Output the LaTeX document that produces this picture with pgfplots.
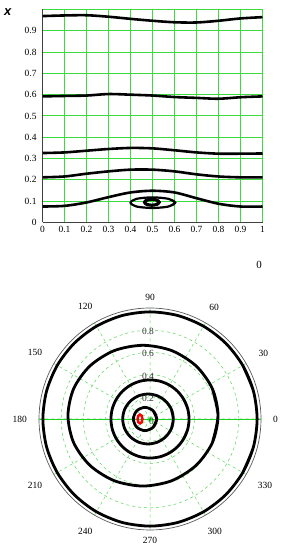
\documentclass[border=0pt]{standalone}
\usepackage{pgfplots}
\pgfplotsset{compat=1.18}
\usepgfplotslibrary{polar}
\usepackage{fontspec}
\setmainfont{Liberation Serif}
\newfontfamily\labelsans{Liberation Sans}
\definecolor{gridgreen}{RGB}{60,220,60}
\definecolor{pgrid}{RGB}{90,215,90}
\definecolor{axisgreen}{RGB}{30,210,30}
\begin{document}
\begin{tikzpicture}[x=1bp,y=1bp]
\useasboundingbox (0,0) rectangle (287,553);
\begin{axis}[
  at={(42.5bp,330.5bp)}, anchor=south west,
  scale only axis, width=220bp, height=213bp,
  xmin=0, xmax=1, ymin=0, ymax=1,
  xtick={0,0.1,0.2,0.3,0.4,0.5,0.6,0.7,0.8,0.9,1},
  xticklabels={0,0.1,0.2,0.3,0.4,0.5,0.6,0.7,0.8,0.9,1},
  ytick={0,0.1,0.2,0.3,0.4,0.5,0.6,0.7,0.8,0.9,1},
  yticklabels={0,0.1,0.2,0.3,0.4,0.5,0.6,0.7,0.8,0.9,{}},
  xmajorgrids, ymajorgrids,
  x grid style={gridgreen, line width=1bp},
  y grid style={gridgreen, line width=1bp},
  axis x line*=bottom, axis y line*=left,
  axis line style={black!75, line width=0.7bp, -},
  tick style={draw=none},
  ticklabel style={font=\fontsize{9.5}{10}\selectfont},
  yticklabel style={xshift=-2.5pt},
  ylabel={\labelsans\bfseries\itshape x},
  every axis y label/.style={at={(axis description cs:-0.158,0.987)}, anchor=center, font=\fontsize{13}{13}\selectfont},
]
\addplot[black, line width=2.6pt, smooth] coordinates {
 (0,0.969) (0.1,0.972) (0.2,0.973) (0.3,0.966) (0.4,0.956) (0.5,0.947) (0.6,0.940) (0.7,0.939) (0.8,0.947) (0.9,0.958) (1,0.964)};
\addplot[black, line width=2.6pt, smooth] coordinates {
 (0,0.592) (0.1,0.594) (0.2,0.596) (0.3,0.603) (0.4,0.600) (0.5,0.596) (0.6,0.589) (0.7,0.585) (0.8,0.581) (0.9,0.588) (1,0.592)};
\addplot[black, line width=2.6pt, smooth] coordinates {
 (0,0.326) (0.1,0.329) (0.2,0.337) (0.3,0.345) (0.4,0.350) (0.5,0.348) (0.6,0.339) (0.7,0.329) (0.8,0.323) (0.9,0.323) (1,0.324)};
\addplot[black, line width=2.6pt, smooth] coordinates {
 (0,0.212) (0.1,0.216) (0.2,0.229) (0.3,0.240) (0.4,0.248) (0.5,0.248) (0.6,0.240) (0.7,0.226) (0.8,0.216) (0.9,0.212) (1,0.212)};
\addplot[black, line width=2.6pt, smooth] coordinates {
 (0,0.075) (0.1,0.078) (0.2,0.094) (0.3,0.119) (0.4,0.141) (0.5,0.149) (0.6,0.141) (0.7,0.114) (0.8,0.088) (0.9,0.075) (1,0.075)};
\addplot[black, line width=2.2pt, smooth] coordinates {
 (0.573,0.075) (0.603,0.093) (0.573,0.111) (0.5,0.118) (0.427,0.111) (0.400,0.093) (0.427,0.075) (0.5,0.068) (0.573,0.075) (0.603,0.093) (0.573,0.111)};
\addplot[black, line width=3.2pt, smooth] coordinates {
 (0.520,0.085) (0.530,0.095) (0.520,0.105) (0.497,0.109) (0.474,0.105) (0.464,0.095) (0.474,0.085) (0.497,0.081) (0.520,0.085) (0.530,0.095) (0.520,0.105)};
\end{axis}

\node[font=\fontsize{11}{11}\selectfont] at (259,288) {0};

\begin{polaraxis}[
  at={(150bp,134bp)}, anchor=center,
  scale only axis, width=222bp, height=222bp,
  ymin=0, ymax=1,
  xtick={0,30,60,90,120,150,180,210,240,270,300,330},
  xticklabels={0,30,60,90,120,150,180,210,240,270,300,330},
  ytick={0.2,0.4,0.6,0.8},
  yticklabels={},
  grid=major, major grid style={pgrid, dashed, line width=0.5pt},
  axis line style={black!65, line width=0.7pt},
  tick style={draw=none},
  xticklabel style={font=\fontsize{9.5}{10}\selectfont, inner xsep=12pt, inner ysep=7pt},
]
\addplot[axisgreen, line width=0.8pt] coordinates {(0,1) (180,1)};
\addplot[black, line width=2.8pt, smooth] coordinates {
 (-30,0.965) (-15,0.965) (0,0.965) (15,0.965) (30,0.965) (45,0.965) (60,0.965) (75,0.965) (90,0.965) (105,0.965) (120,0.965) (135,0.965) (150,0.965) (165,0.965)
 (180,0.965) (195,0.965) (210,0.965) (225,0.965) (240,0.965) (255,0.965) (270,0.965) (285,0.965) (300,0.965) (315,0.965) (330,0.965) (345,0.965) (360,0.965) (375,0.965) (390,0.965)};
\addplot[black, line width=2.8pt, smooth, data cs=cart] coordinates {
 (0.562,-0.213) (0.613,0.03) (0.562,0.273) (0.415,0.478) (0.196,0.616) (-0.063,0.664) (-0.322,0.616) (-0.541,0.478) (-0.688,0.273)
 (-0.739,0.03) (-0.688,-0.213) (-0.541,-0.418) (-0.322,-0.556) (-0.063,-0.604) (0.196,-0.556) (0.415,-0.418) (0.562,-0.213) (0.613,0.03) (0.562,0.273)};
\addplot[black, line width=2.8pt, smooth] coordinates {
 (-30,0.352) (-15,0.352) (0,0.352) (15,0.352) (30,0.352) (45,0.352) (60,0.352) (75,0.352) (90,0.352) (105,0.352) (120,0.352) (135,0.352) (150,0.352) (165,0.352)
 (180,0.352) (195,0.352) (210,0.352) (225,0.352) (240,0.352) (255,0.352) (270,0.352) (285,0.352) (300,0.352) (315,0.352) (330,0.352) (345,0.352) (360,0.352) (375,0.352) (390,0.352)};
\addplot[black, line width=2.8pt, smooth, data cs=cart] coordinates {
 (0.193,-0.086) (0.210,0) (0.193,0.086) (0.143,0.159) (0.069,0.208) (-0.018,0.225) (-0.105,0.208) (-0.179,0.159) (-0.229,0.086)
 (-0.246,0) (-0.229,-0.086) (-0.179,-0.159) (-0.105,-0.208) (-0.018,-0.225) (0.069,-0.208) (0.143,-0.159) (0.193,-0.086) (0.210,0) (0.193,0.086)};
\addplot[black, line width=2.8pt, smooth, data cs=cart] coordinates {
 (0.029,-0.074) (0.060,0) (0.029,0.074) (-0.045,0.105) (-0.119,0.074) (-0.150,0) (-0.119,-0.074) (-0.045,-0.105) (0.029,-0.074) (0.060,0) (0.029,0.074)};
\addplot[red, line width=2.4pt, smooth, data cs=cart] coordinates {
 (-0.0745,-0.028) (-0.068,0) (-0.0745,0.028) (-0.09,0.040) (-0.1055,0.028) (-0.112,0) (-0.1055,-0.028) (-0.09,-0.040) (-0.0745,-0.028) (-0.068,0) (-0.0745,0.028)};
\node[font=\fontsize{9.5}{10}\selectfont, text=black!80, xshift=-2pt, yshift=-1.5pt] at (axis cs:90,0.8) {0.8};
\node[font=\fontsize{9.5}{10}\selectfont, text=black!80, xshift=-2pt, yshift=-1.5pt] at (axis cs:90,0.6) {0.6};
\node[font=\fontsize{9.5}{10}\selectfont, text=black!80, xshift=-2pt, yshift=-1.5pt] at (axis cs:90,0.4) {0.4};
\node[font=\fontsize{9.5}{10}\selectfont, text=black!80, xshift=-2pt, yshift=-1.5pt] at (axis cs:90,0.2) {0.2};
\node[font=\fontsize{9.5}{10}\selectfont, text=black!60!green, xshift=1.5pt, yshift=-2pt] at (axis cs:0,0) {0};
\end{polaraxis}
\end{tikzpicture}
\end{document}
